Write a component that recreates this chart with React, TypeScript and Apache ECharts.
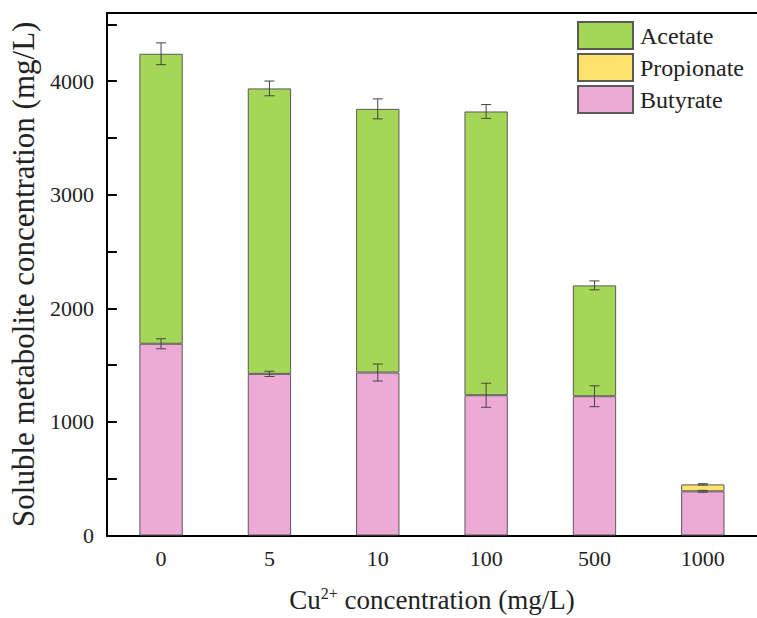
import React, { useEffect, useRef } from "react";
import * as echarts from "echarts";

const categories = ["0", "5", "10", "100", "500", "1000"];
const butyrate = [1688, 1423, 1435, 1235, 1226, 389];
const propionate: (number | null)[] = [null, null, null, null, null, 61];
const acetate: (number | null)[] = [2553, 2513, 2321, 2498, 976, null];
const butyrateErr = [44, 23, 75, 106, 92, 8];
const totalErr = [96, 65, 88, 61, 39, 6];
const yTicks = [0, 1000, 2000, 3000, 4000];

const FONT = "Liberation Serif";

export default function App() {
  const ref = useRef<HTMLDivElement>(null);
  useEffect(() => {
    if (!ref.current) return;
    const chart = echarts.init(ref.current, undefined, { renderer: "svg" });
    const totals = categories.map(
      (_, i) => butyrate[i] + (propionate[i] || 0) + (acetate[i] || 0)
    );
    const errData: number[][] = [];
    categories.forEach((_, i) => {
      errData.push([i, butyrate[i], butyrateErr[i]]);
      errData.push([i, totals[i], totalErr[i]]);
    });
    const border = { borderColor: "#5a5a5a", borderWidth: 1 };
    chart.setOption({
      animation: false,
      textStyle: { fontFamily: FONT },
      grid: {
        left: 105,
        width: 655,
        top: 13,
        bottom: 77,
      },
      legend: {
        orient: "vertical",
        left: 577,
        top: 21,
        padding: 0,
        icon: "rect",
        itemWidth: 55,
        itemHeight: 27,
        itemGap: 3,
        data: ["Acetate", "Propionate", "Butyrate"],
        textStyle: { fontFamily: FONT, fontSize: 24, lineHeight: 27, color: "#222", padding: [0, 0, 0, 2] },
      },
      xAxis: [
        {
          type: "category",
          data: categories,
          axisLine: { lineStyle: { color: "#000", width: 2 } },
          axisTick: { show: false },
          axisLabel: { fontFamily: FONT, fontSize: 22, color: "#222", margin: 12 },
          name: "Cu{sup|2+} concentration (mg/L)",
          nameLocation: "middle",
          nameGap: 50,
          nameTextStyle: {
            fontFamily: FONT,
            fontSize: 27,
            color: "#222",
            rich: {
              sup: { fontFamily: FONT, fontSize: 16, color: "#222", verticalAlign: "top", padding: [0, 0, 12, 0] },
            },
          },
        },
        {
          type: "category",
          position: "top",
          data: categories,
          axisLine: { show: true, lineStyle: { color: "#000", width: 2 } },
          axisTick: { show: false },
          axisLabel: { show: false },
        },
      ],
      yAxis: {
        type: "value",
        min: 0,
        max: 4600,
        interval: 1000,
        axisLine: { show: true, lineStyle: { color: "#000", width: 2 } },
        axisTick: { show: true, inside: true, length: 10, lineStyle: { color: "#000", width: 2 } },
        minorTick: { show: true, splitNumber: 2, length: 10, lineStyle: { color: "#000", width: 2 } },
        splitLine: { show: false },
        axisLabel: {
          fontFamily: FONT,
          fontSize: 22,
          color: "#222",
          margin: 13,
          formatter: (v: number) => (yTicks.includes(v) ? String(v) : ""),
        },
        name: "Soluble metabolite concentration (mg/L)",
        nameLocation: "middle",
        nameGap: 64,
        nameTextStyle: { fontFamily: FONT, fontSize: 31, color: "#222" },
      },
      series: [
        {
          name: "Butyrate",
          type: "bar",
          stack: "s",
          barWidth: "40%",
          data: butyrate,
          itemStyle: { color: "#ecaad4", ...border },
        },
        {
          name: "Propionate",
          type: "bar",
          stack: "s",
          barWidth: "40%",
          data: propionate,
          itemStyle: { color: "#fde26c", ...border },
        },
        {
          name: "Acetate",
          type: "bar",
          stack: "s",
          barWidth: "40%",
          data: acetate,
          itemStyle: { color: "#a6d656", ...border },
        },
        {
          type: "custom",
          name: "err",
          data: errData,
          z: 10,
          renderItem: (params: any, api: any) => {
            const x = api.value(0);
            const v = api.value(1);
            const e = api.value(2);
            const hi = api.coord([x, v + e]);
            const lo = api.coord([x, v - e]);
            const w = 5;
            const style = { stroke: "#444", lineWidth: 1 };
            return {
              type: "group",
              children: [
                { type: "line", shape: { x1: hi[0], y1: hi[1], x2: lo[0], y2: lo[1] }, style },
                { type: "line", shape: { x1: hi[0] - w, y1: hi[1], x2: hi[0] + w, y2: hi[1] }, style },
                { type: "line", shape: { x1: lo[0] - w, y1: lo[1], x2: lo[0] + w, y2: lo[1] }, style },
              ],
            };
          },
        },
      ],
    });
    return () => chart.dispose();
  }, []);
  return <div ref={ref} style={{ width: 757, height: 618, position: "absolute", left: 0, top: 0 }} />;
}
